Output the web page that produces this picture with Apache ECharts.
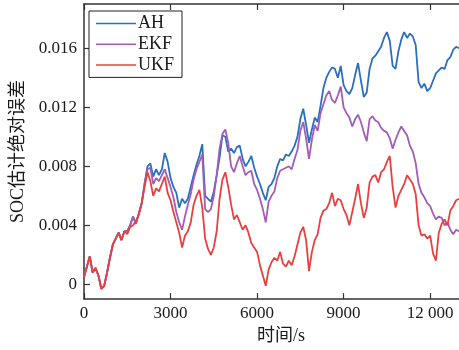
<!DOCTYPE html>
<html><head><meta charset="utf-8">
<script src="https://cdn.jsdelivr.net/npm/echarts@6/dist/echarts.min.js"></script>
<style>html,body{margin:0;padding:0;background:#fff}#c{width:459px;height:350px}</style>
</head><body><div id="c"></div>
<script>
// sample times (s), one sample every 100 s, 0 .. 13000
const stepSeconds = 100;
const xTicks = [0, 3000, 6000, 9000, 12000];
const yTicks = [0, 0.004, 0.008, 0.012, 0.016];
const seriesNames = ['AH', 'EKF', 'UKF'];

const ahValues = [
0.0005,0.0012,0.0019,0.0008,0.0011,0.0006,-0.0003,-0.0001,0.0008,0.0018,
0.0027,0.0031,0.0035,0.0030,0.0036,0.0036,0.0040,0.0046,0.0041,0.0048,
0.0055,0.0068,0.0080,0.0082,0.0073,0.0078,0.0074,0.0078,0.0089,0.0083,
0.0072,0.0066,0.0062,0.0052,0.0058,0.0055,0.0058,0.0066,0.0074,0.0081,
0.0087,0.0095,0.0060,0.0058,0.0056,0.0063,0.0074,0.0086,0.0101,0.0100,
0.0090,0.0092,0.0089,0.0093,0.0094,0.0085,0.0080,0.0083,0.0087,0.0079,
0.0073,0.0068,0.0062,0.0057,0.0066,0.0068,0.0072,0.0080,0.0085,0.0084,
0.0088,0.0087,0.0090,0.0094,0.0100,0.0112,0.0119,0.0108,0.0096,0.0105,
0.0113,0.0110,0.0121,0.0133,0.0140,0.0144,0.0147,0.0146,0.0140,0.0148,
0.0135,0.0131,0.0129,0.0133,0.0142,0.0150,0.0138,0.0127,0.0130,0.0146,
0.0153,0.0155,0.0158,0.0161,0.0167,0.0171,0.0165,0.0148,0.0146,0.0158,
0.0166,0.0171,0.0167,0.0170,0.0168,0.0162,0.0137,0.0133,0.0136,0.0131,
0.0133,0.0138,0.0143,0.0145,0.0147,0.0146,0.0152,0.0154,0.0159,0.0161,
0.0160];

const ekfValues = [
0.0005,0.0012,0.0019,0.0008,0.0011,0.0006,-0.0003,-0.0001,0.0008,0.0018,
0.0027,0.0031,0.0035,0.0030,0.0036,0.0036,0.0040,0.0046,0.0041,0.0048,
0.0055,0.0068,0.0078,0.0079,0.0068,0.0072,0.0070,0.0074,0.0078,0.0072,
0.0066,0.0059,0.0049,0.0042,0.0037,0.0046,0.0054,0.0061,0.0071,0.0078,
0.0083,0.0088,0.0051,0.0049,0.0051,0.0060,0.0074,0.0092,0.0102,0.0105,
0.0096,0.0080,0.0076,0.0082,0.0087,0.0080,0.0074,0.0076,0.0077,0.0068,
0.0064,0.0058,0.0051,0.0042,0.0056,0.0060,0.0063,0.0072,0.0077,0.0078,
0.0079,0.0080,0.0078,0.0085,0.0091,0.0104,0.0110,0.0099,0.0085,0.0098,
0.0108,0.0104,0.0116,0.0122,0.0128,0.0131,0.0125,0.0123,0.0128,0.0134,
0.0120,0.0116,0.0113,0.0107,0.0112,0.0115,0.0110,0.0103,0.0097,0.0112,
0.0114,0.0111,0.0110,0.0106,0.0104,0.0103,0.0099,0.0092,0.0098,0.0103,
0.0107,0.0104,0.0101,0.0094,0.0090,0.0082,0.0068,0.0062,0.0059,0.0055,
0.0053,0.0048,0.0044,0.0046,0.0045,0.0040,0.0042,0.0037,0.0034,0.0037,
0.0036];

const ukfValues = [
0.0005,0.0012,0.0019,0.0008,0.0011,0.0006,-0.0003,-0.0001,0.0008,0.0018,
0.0027,0.0031,0.0035,0.0030,0.0036,0.0034,0.0039,0.0040,0.0043,0.0047,
0.0055,0.0066,0.0076,0.0070,0.0060,0.0065,0.0063,0.0068,0.0073,0.0062,
0.0057,0.0049,0.0042,0.0035,0.0025,0.0033,0.0036,0.0042,0.0054,0.0060,
0.0064,0.0052,0.0031,0.0024,0.0020,0.0025,0.0036,0.0058,0.0071,0.0076,
0.0066,0.0054,0.0044,0.0047,0.0042,0.0037,0.0040,0.0035,0.0028,0.0025,
0.0022,0.0013,0.0006,-0.0001,0.0010,0.0015,0.0018,0.0016,0.0022,0.0014,
0.0012,0.0016,0.0013,0.0019,0.0027,0.0035,0.0039,0.0030,0.0009,0.0022,
0.0030,0.0034,0.0045,0.0050,0.0051,0.0055,0.0062,0.0053,0.0058,0.0057,
0.0051,0.0047,0.0040,0.0049,0.0058,0.0068,0.0055,0.0045,0.0052,0.0069,
0.0073,0.0074,0.0069,0.0076,0.0078,0.0083,0.0087,0.0066,0.0052,0.0060,
0.0064,0.0068,0.0074,0.0071,0.0068,0.0061,0.0040,0.0033,0.0034,0.0031,
0.0033,0.0021,0.0016,0.0035,0.0041,0.0044,0.0040,0.0050,0.0053,0.0057,
0.0058];

const colors = ['#2a6fc0', '#a35cb8', '#e8403f'];
function pairs(vals){ return vals.map((v,i)=>[i*stepSeconds, v]); }

const chart = echarts.init(document.getElementById('c'), null, {renderer:'canvas'});
const axisColor = '#333';
const fontFam = "'Liberation Serif','Noto Sans CJK SC',serif";
chart.setOption({
  animation:false,
  backgroundColor:'#fff',
  grid:{left:84, right:-2, top:4, bottom:50, containLabel:false},
  legend:{
    orient:'vertical', left:89, top:11,
    data:seriesNames,
    icon:'rect', itemWidth:40, itemHeight:1.5, itemGap:2.7,
    padding:[3.5,8,3.5,7],
    borderColor:'#222', borderWidth:1, backgroundColor:'#fff',
    textStyle:{fontFamily:fontFam, fontSize:18, color:'#1a1a1a', padding:[0,0,0,-3]}
  },
  xAxis:[{
    type:'value', min:0, max:13000, position:'bottom',
    name:'时间/s', nameLocation:'middle', nameGap:27,
    nameTextStyle:{fontFamily:fontFam, fontSize:18, color:'#1a1a1a', padding:[0,0,0,19]},
    axisLine:{show:true, onZero:false, lineStyle:{color:axisColor, width:1.5}},
    axisTick:{show:true, inside:true, length:6, customValues:xTicks, lineStyle:{color:axisColor, width:1.2}},
    axisLabel:{customValues:xTicks, margin:6, fontFamily:fontFam, fontSize:17, color:'#1a1a1a',
      formatter:v=> v===12000 ? '12 000' : String(v)},
    splitLine:{show:false}
  },{
    type:'value', min:0, max:13000, position:'top',
    axisLine:{show:true, onZero:false, lineStyle:{color:axisColor, width:1.5}},
    axisTick:{show:true, inside:true, length:6, customValues:xTicks, lineStyle:{color:axisColor, width:1.2}},
    axisLabel:{show:false}, splitLine:{show:false}
  }],
  yAxis:{
    type:'value', min:-0.001, max:0.019,
    name:'SOC估计绝对误差', nameLocation:'middle', nameGap:57, nameRotate:90,
    nameTextStyle:{fontFamily:fontFam, fontSize:18, color:'#1a1a1a'},
    axisLine:{show:true, onZero:false, lineStyle:{color:axisColor, width:1.5}},
    axisTick:{show:true, inside:true, length:6, customValues:yTicks, lineStyle:{color:axisColor, width:1.2}},
    axisLabel:{customValues:yTicks, margin:7, fontFamily:fontFam, fontSize:17, color:'#1a1a1a',
      formatter:v=> Math.abs(v)<1e-9 ? '0' : v.toFixed(3)},
    splitLine:{show:false}
  },
  series:[
    {name:'AH', type:'line', data:pairs(ahValues), showSymbol:false, lineStyle:{width:1.8, color:colors[0]}, itemStyle:{color:colors[0]}},
    {name:'EKF', type:'line', data:pairs(ekfValues), showSymbol:false, lineStyle:{width:1.8, color:colors[1]}, itemStyle:{color:colors[1]}},
    {name:'UKF', type:'line', data:pairs(ukfValues), showSymbol:false, lineStyle:{width:1.8, color:colors[2]}, itemStyle:{color:colors[2]}}
  ]
});
</script></body></html>
